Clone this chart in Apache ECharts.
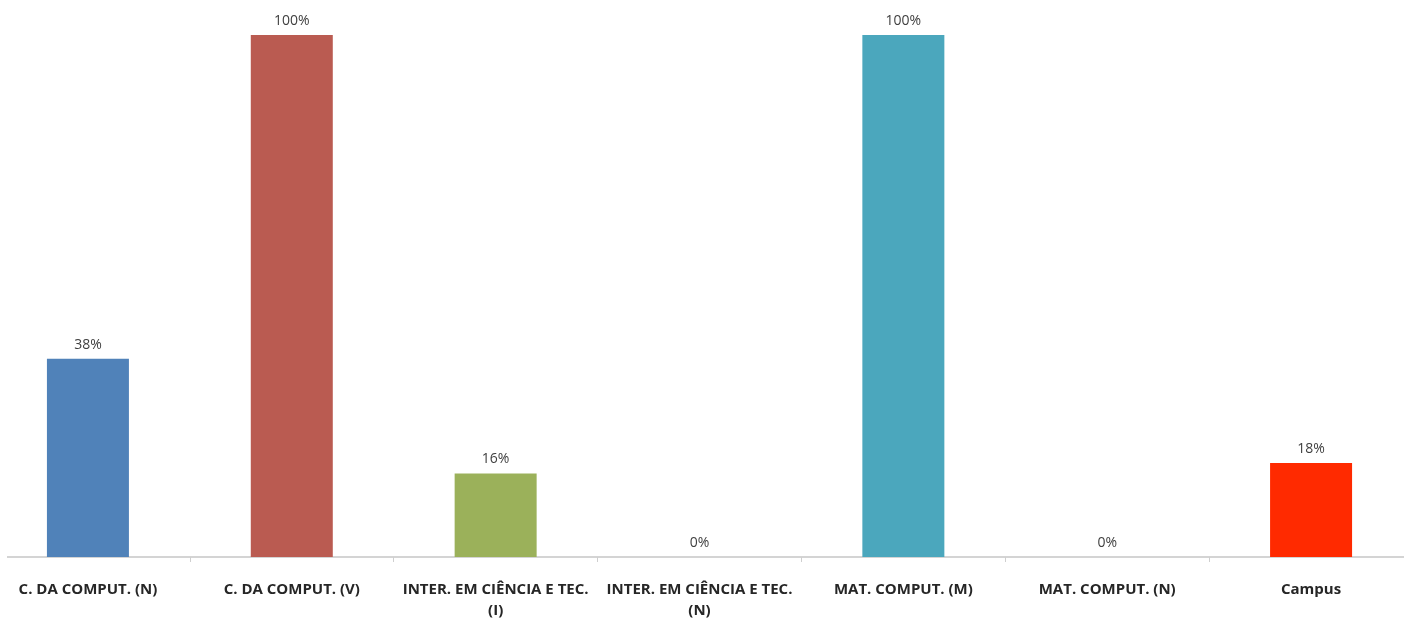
<!DOCTYPE html>
<html>
<head>
<meta charset="utf-8">
<style>
  html, body { margin: 0; padding: 0; background: #ffffff; }
  #chart { width: 1404px; height: 628px; }
</style>
<script src="https://cdn.jsdelivr.net/npm/echarts@6/dist/echarts.min.js"></script>
</head>
<body>
<div id="chart"></div>
<script>
// Course names along the x axis
const categories = [
  'C. DA COMPUT. (N)',
  'C. DA COMPUT. (V)',
  'INTER. EM CIÊNCIA E TEC.\n(I)',
  'INTER. EM CIÊNCIA E TEC.\n(N)',
  'MAT. COMPUT. (M)',
  'MAT. COMPUT. (N)',
  'Campus'
];
// Percentage per course
const percentages = [38, 100, 16, 0, 100, 0, 18];
// One fill per bar
const barColors = ['#5082B9', '#BA5B51', '#9BB15A', '#8064A2', '#4BA7BD', '#F79646', '#FF2A00'];

const chart = echarts.init(document.getElementById('chart'));
chart.setOption({
  animation: false,
  grid: {
    left: -14, right: -9, top: 35, bottom: 71,
    containLabel: false,
    outerBoundsMode: 'none'
  },
  xAxis: {
    type: 'category',
    data: categories,
    axisLine: { show: true, lineStyle: { color: '#d4d4d4', width: 2 } },
    axisTick: { show: true, alignWithLabel: false, length: 5, lineStyle: { color: '#cfcfcf' } },
    axisLabel: {
      interval: 0,
      margin: 22,
      color: '#262626',
      fontFamily: 'Open Sans',
      fontWeight: 'bold',
      fontSize: 15,
      lineHeight: 21,
      align: 'center'
    }
  },
  yAxis: {
    type: 'value',
    min: 0,
    max: 100,
    show: false
  },
  // the baseline begins a few pixels in from the left edge
  graphic: [{
    type: 'rect',
    left: 0,
    top: 550,
    shape: { width: 7, height: 14 },
    style: { fill: '#ffffff' },
    z: 100
  }],
  series: [{
    type: 'bar',
    data: percentages.map((v, i) => ({ value: v, itemStyle: { color: barColors[i] } })),
    barWidth: 82,
    label: {
      show: true,
      position: 'top',
      distance: 7,
      formatter: '{c}%',
      color: '#404040',
      fontFamily: 'Open Sans',
      fontSize: 14
    }
  }]
});
</script>
</body>
</html>
